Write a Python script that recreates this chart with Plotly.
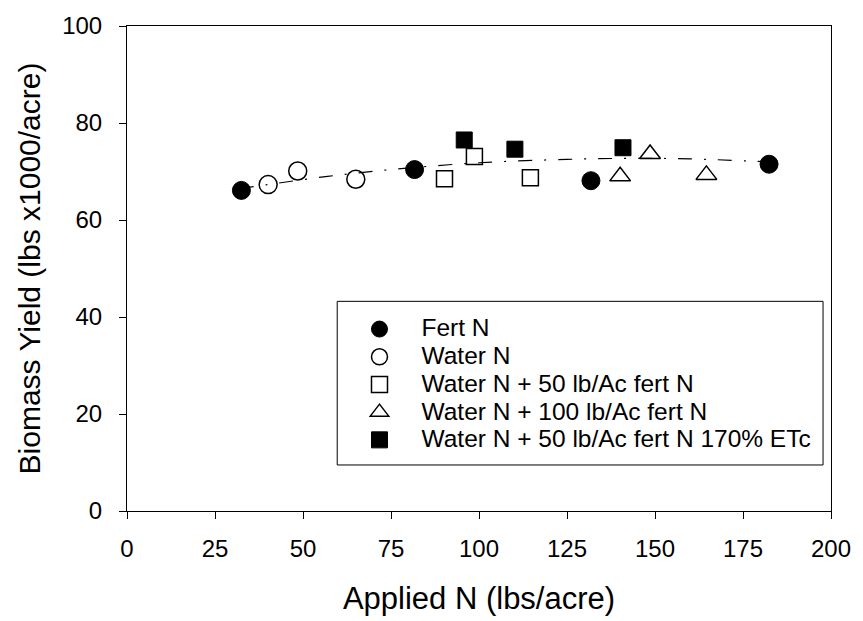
import plotly.graph_objects as go

# Data
fert_x = [32.5, 81.7, 131.8, 182.4]
fert_y = [66.1, 70.4, 68.1, 71.5]

water_x = [40.1, 48.5, 65.0]
water_y = [67.3, 70.1, 68.4]

w50_x = [90.2, 98.7, 114.6]
w50_y = [68.5, 73.1, 68.7]

w100_x = [140.1, 148.6, 164.6]
w100_y = [69.0, 73.6, 69.3]

etc_x = [95.8, 110.2, 140.9]
etc_y = [76.5, 74.6, 74.9]

# regression curve
fit_x = [32, 40, 57, 75, 100, 125, 143, 160, 182]
fit_y = [66.5, 67.3, 69.0, 70.4, 71.8, 72.5, 72.7, 72.6, 72.0]

series_names = ["Fert N", "Water N", "Water N + 50 lb/Ac fert N",
                "Water N + 100 lb/Ac fert N", "Water N + 50 lb/Ac fert N 170% ETc"]

x_ticks = [0, 25, 50, 75, 100, 125, 150, 175, 200]
y_ticks = [0, 20, 40, 60, 80, 100]

FONT = "Arial, 'Liberation Sans', sans-serif"


def leg(name):
    return '<span style="font-size:24.5px">' + name + '</span>'


fig = go.Figure()

fig.add_trace(go.Scatter(x=fit_x, y=fit_y, mode="lines", line_shape="spline",
                         line=dict(color="black", width=1.2, dash="14px,12px,2px,12px"),
                         showlegend=False, hoverinfo="skip"))

fig.add_trace(go.Scatter(x=fert_x, y=fert_y, mode="markers", name=leg(series_names[0]),
                         marker=dict(symbol="circle", size=18, color="black",
                                     line=dict(color="black", width=1))))
fig.add_trace(go.Scatter(x=water_x, y=water_y, mode="markers", name=leg(series_names[1]),
                         marker=dict(symbol="circle-open", size=18, color="black",
                                     line=dict(color="black", width=1.5))))
fig.add_trace(go.Scatter(x=w50_x, y=w50_y, mode="markers", name=leg(series_names[2]),
                         marker=dict(symbol="square-open", size=16, color="black",
                                     line=dict(color="black", width=1.5))))
fig.add_trace(go.Scatter(x=w100_x, y=w100_y, mode="markers", name=leg(series_names[3]),
                         marker=dict(symbol="triangle-up-open", size=18, color="black",
                                     line=dict(color="black", width=1.5))))
fig.add_trace(go.Scatter(x=etc_x, y=etc_y, mode="markers", name=leg(series_names[4]),
                         marker=dict(symbol="square", size=16, color="black",
                                     line=dict(color="black", width=1))))

# legend frame
fig.add_shape(type="rect", xref="paper", yref="paper",
              x0=0.2986, x1=0.9887, y0=0.0949, y1=0.4323,
              line=dict(color="black", width=1), fillcolor="white", layer="above")

fig.update_layout(
    width=863, height=621,
    margin=dict(l=127, r=26, t=22, b=104),
    paper_bgcolor="white", plot_bgcolor="white",
    font=dict(family=FONT, size=22, color="black"),
    legend=dict(x=0.299, y=0.414, xanchor="left", yanchor="top",
                borderwidth=0, bgcolor="rgba(0,0,0,0)",
                font=dict(family=FONT, size=19, color="black"),
                itemwidth=74, tracegroupgap=0),
)

fig.update_xaxes(range=[0, 200], tickvals=x_ticks, ticktext=[str(v) for v in x_ticks],
                 showgrid=False, zeroline=False, showline=True, linecolor="black", linewidth=1,
                 mirror=True, ticks="outside", ticklen=7, tickcolor="black", tickwidth=1,
                 tickfont=dict(size=24), ticklabelstandoff=9,
                 title=dict(text="Applied N (lbs/acre)", font=dict(size=31), standoff=26))
fig.update_yaxes(range=[0, 100], tickvals=y_ticks, ticktext=[str(v) for v in y_ticks],
                 showgrid=False, zeroline=False, showline=True, linecolor="black", linewidth=1,
                 mirror=True, ticks="outside", ticklen=7, tickcolor="black", tickwidth=1,
                 tickfont=dict(size=24), ticklabelstandoff=12,
                 title=dict(text="Biomass Yield (lbs x1000/acre)", font=dict(size=30), standoff=12))

fig.write_html("out.html")
